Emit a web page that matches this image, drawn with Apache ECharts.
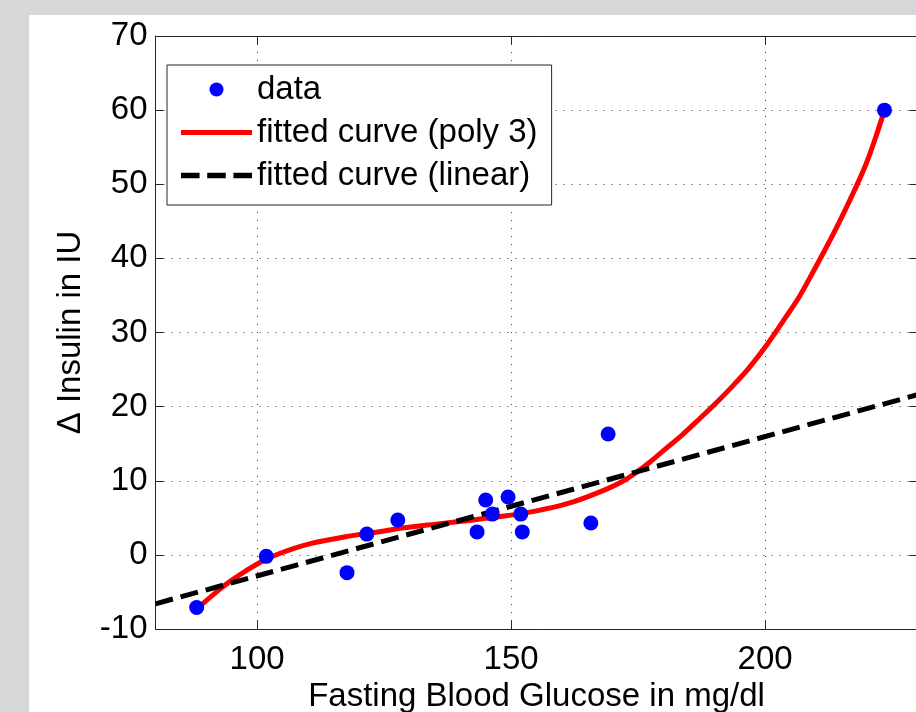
<!DOCTYPE html>
<html><head><meta charset="utf-8">
<script src="https://cdn.jsdelivr.net/npm/echarts@6/dist/echarts.min.js"></script>
<style>
html,body{margin:0;padding:0;width:916px;height:712px;background:#d6d7d9;overflow:hidden}
#panel{position:absolute;left:29px;top:15px;width:887px;height:697px;background:#fff}
#chart{position:absolute;left:0;top:0;width:916px;height:712px}
</style></head><body>
<div id="panel"></div><div id="chart"></div>
<script>
// measured data points
const glucose = [88.1, 101.8, 117.7, 121.6, 127.7, 143.3, 145.0, 146.3, 149.4, 151.9, 152.2, 165.7, 169.1, 223.5];
const insulin = [-7.1, -0.2, -2.4, 2.8, 4.7, 3.1, 7.4, 5.5, 7.8, 5.5, 3.1, 4.3, 16.3, 60.0];
// cubic fit
const polyX = [88.1, 92.5, 95.1, 97.8, 101.0, 104.3, 107.6, 110.9, 114.2, 117.4, 120.7, 124.0, 128.6, 135.2, 141.7, 148.3, 154.8, 161.4, 167.5, 171.9, 175.0, 177.1, 180.4, 183.7, 187.0, 190.3, 193.5, 196.8, 200.1, 204.1, 206.7, 209.3, 211.9, 214.6, 217.2, 219.8, 221.8, 223.5];
const polyY = [-7.3, -4.72, -3.37, -2.15, -0.85, 0.15, 0.95, 1.58, 2.05, 2.45, 2.8, 3.12, 3.62, 4.15, 4.65, 5.2, 5.9, 6.97, 8.5, 9.9, 11.3, 12.4, 14.3, 16.2, 18.3, 20.45, 22.7, 25.2, 28.1, 32.1, 34.8, 38.0, 41.3, 44.9, 48.6, 52.6, 56.4, 60.0];
// linear fit
const linX = [80, 230];
const linY = [-6.6, 21.6];
const xTicks = [100, 150, 200];
const yTicks = [-10, 0, 10, 20, 30, 40, 50, 60, 70];
const xRange = [80, 230];
const yRange = [-10, 70];

const names = ['data', 'fitted curve (poly 3)', 'fitted curve (linear)'];
const FONT = '"Liberation Sans", Arial, Helvetica, sans-serif';
const AX = '#262626';

const zip = (a, b) => a.map((v, i) => [v, b[i]]);

const chart = echarts.init(document.getElementById('chart'), null, {renderer: 'canvas'});
const baseX = {
  type: 'value', min: xRange[0], max: xRange[1], splitNumber: 3,
  axisLine: {show: true, onZero: false, lineStyle: {color: AX, width: 1}},
  axisTick: {show: true, inside: true, length: 8, customValues: xTicks, lineStyle: {color: AX, width: 1}}
};
const baseY = {
  type: 'value', min: yRange[0], max: yRange[1], interval: 10,
  axisLine: {show: true, onZero: false, lineStyle: {color: AX, width: 1}},
  axisTick: {show: true, inside: true, length: 8, lineStyle: {color: AX, width: 1}}
};
chart.setOption({
  animation: false,
  textStyle: {fontFamily: FONT},
  grid: {left: 155.5, top: 36, width: 762, height: 593, containLabel: false, outerBoundsMode: 'none'},
  legend: {
    orient: 'vertical', left: 167, top: 65, padding: [8, 14, 13, 14], itemGap: 10,
    itemWidth: 71, itemHeight: 14, selectedMode: false,
    backgroundColor: '#fff', borderColor: AX, borderWidth: 1,
    itemStyle: {borderWidth: 0},
    textStyle: {fontSize: 33, color: '#000', fontFamily: FONT},
    data: [
      {name: names[0], icon: 'circle'},
      {name: names[1], icon: 'path://M0,0h71v5h-71z'},
      {name: names[2], icon: 'path://M0,0h17v5h-17zM24,0h17v5h-17zM48,0h17v5h-17z'}
    ]
  },
  xAxis: [
    Object.assign({}, baseX, {
      position: 'bottom',
      axisLabel: {show: true, customValues: xTicks, fontSize: 33, color: '#000', margin: 14, fontFamily: FONT},
      splitLine: {show: true, lineStyle: {type: [1, 7], color: '#333', width: 1}},
      name: 'Fasting Blood Glucose in mg/dl', nameLocation: 'middle', nameGap: 48,
      nameTextStyle: {fontSize: 33, color: '#000', fontFamily: FONT}
    }),
    Object.assign({}, baseX, {position: 'top', axisLabel: {show: false}, splitLine: {show: false}})
  ],
  yAxis: [
    Object.assign({}, baseY, {
      position: 'left',
      axisLabel: {show: true, fontSize: 33, color: '#000', margin: 8, fontFamily: FONT},
      splitLine: {show: true, lineStyle: {type: [1, 7], color: '#333', width: 1}},
      name: 'Δ Insulin in IU', nameLocation: 'middle', nameGap: 68, nameRotate: 90,
      nameTextStyle: {fontSize: 33, color: '#000', fontFamily: FONT}
    }),
    Object.assign({}, baseY, {position: 'right', axisLabel: {show: false}, splitLine: {show: false}})
  ],
  series: [
    {
      name: names[0], type: 'scatter', data: zip(glucose, insulin), symbol: 'circle', symbolSize: 15,
      itemStyle: {color: '#0000ff', opacity: 1}, z: 6
    },
    {
      name: names[1], type: 'line', data: zip(polyX, polyY), symbol: 'none', showSymbol: false,
      smooth: 0.3, color: '#ff0000',
      lineStyle: {color: '#ff0000', width: 5}, itemStyle: {color: '#ff0000'}, z: 3
    },
    {
      name: names[2], type: 'line', data: zip(linX, linY), symbol: 'none', showSymbol: false,
      color: '#000000', lineStyle: {color: '#000000', width: 5, type: [18, 8]},
      itemStyle: {color: '#000000'}, z: 4
    }
  ]
});
</script>
</body></html>
